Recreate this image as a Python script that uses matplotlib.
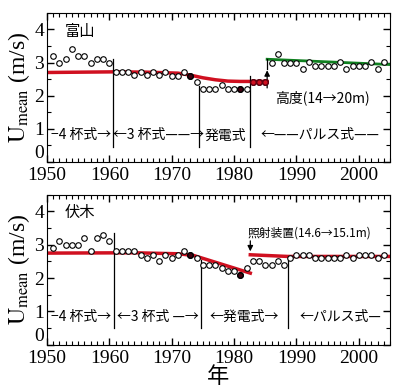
import numpy as np
import matplotlib
matplotlib.use("Agg")
import matplotlib.pyplot as plt
from matplotlib.ticker import MultipleLocator

plt.rcParams["font.family"] = ["Liberation Serif", "Noto Sans CJK JP"]
plt.rcParams["mathtext.fontset"] = "stix"
JP = ["Noto Sans CJK JP", "DejaVu Sans"]

years = list(range(1951, 2005))

# Toyama (top)
toyama = [3.2, 3.0, 3.1, 3.4, 3.2, 3.2, 3.0, 3.1, 3.1, 3.0,
          2.7, 2.7, 2.7, 2.62, 2.7, 2.62, 2.7, 2.62, 2.7, 2.6,
          2.6, 2.7, 2.6, 2.4, 2.2, 2.2, 2.2, 2.32, 2.2, 2.2,
          2.2, 2.2, 2.42, 2.42, 2.42, 3.0, 3.25, 3.0, 3.0, 3.0,
          2.8, 3.03, 2.9, 2.9, 2.9, 2.9, 3.03, 2.8, 2.9, 2.9,
          2.9, 3.03, 2.8, 3.03]
toyama_dark = [1973, 1981]
toyama_red = [1983, 1984, 1985]

# Fushiki (bottom)
fushiki = [2.9, 3.1, 3.0, 3.0, 3.0, 3.2, 2.8, 3.2, 3.3, 3.1,
           2.8, 2.8, 2.8, 2.8, 2.7, 2.6, 2.7, 2.5, 2.7, 2.6,
           2.7, 2.8, 2.7, 2.6, 2.4, 2.4, 2.4, 2.3, 2.2, 2.2,
           2.1, 2.3, 2.5, 2.5, 2.4, 2.4, 2.5, 2.4, 2.6, 2.7,
           2.7, 2.7, 2.6, 2.6, 2.6, 2.6, 2.6, 2.7, 2.6, 2.7,
           2.7, 2.7, 2.6, 2.7]
fushiki_dark = [1973, 1981]

# fitted trend lines
fit_top_x = [1950, 1961, 1966, 1971, 1973, 1975, 1977, 1979, 1981, 1985.3]
fit_top_y = [2.7, 2.72, 2.71, 2.68, 2.62, 2.54, 2.48, 2.44, 2.43, 2.43]
green_x = [1985.3, 2005]
green_y = [3.1, 2.94]
fit_bot1_x = [1950, 1964, 1971, 1973.5, 1982.6]
fit_bot1_y = [2.75, 2.76, 2.73, 2.68, 2.15]
fit_bot2_x = [1982.6, 1988.6, 2005]
fit_bot2_y = [2.7, 2.65, 2.65]

y_ticks = [0, 1, 2, 3, 4]

fig = plt.figure(figsize=(4.0, 3.91), dpi=100)
ax1 = fig.add_axes([0.1175, 0.586, 0.8575, 0.381])
ax2 = fig.add_axes([0.1175, 0.118, 0.8575, 0.384])

RED = "#d01020"


def style(ax):
    ax.set_xlim(1950, 2005)
    ax.set_ylim(0, 4.5)
    ax.xaxis.set_major_locator(MultipleLocator(10))
    ax.xaxis.set_minor_locator(MultipleLocator(1))
    ax.set_yticks(y_ticks)
    ax.yaxis.set_minor_locator(MultipleLocator(0.5))
    ax.tick_params(which="both", direction="in", top=True, right=True,
                   labelsize=14)
    ax.tick_params(axis="x", pad=4)
    ax.tick_params(axis="y", pad=2)
    ax.tick_params(which="major", length=5, width=1)
    ax.tick_params(which="minor", length=3, width=0.8)
    ax.set_ylabel(r"$\mathrm{U_{mean}}$ (m/s)", fontsize=17, labelpad=2)
    # lift the "0" label so it clears the year labels
    ax.yaxis.get_major_ticks()[0].label1.set_verticalalignment("bottom")


def scatter(ax, vals, dark, red=()):
    ax.plot(years, vals, "o", mfc="white", mec="black", ms=4, mew=0.8,
            zorder=3)
    for y, v in zip(years, vals):
        if y in dark:
            ax.plot(y, v, "o", mfc="#400010", mec="black", ms=4, zorder=4)
        if y in red:
            ax.plot(y, v, "o", mfc=RED, mec="#600010", ms=4, zorder=4)


# top panel
style(ax1)
ax1.plot(fit_top_x, fit_top_y, color=RED, lw=2.5, zorder=2)
ax1.plot(green_x, green_y, color="#108020", lw=2, zorder=2)
scatter(ax1, toyama, toyama_dark, toyama_red)
for x, y0, y1 in [(1960.6, 0.45, 3.1), (1974.4, 0.45, 2.3), (1982.5, 0.45, 2.6)]:
    ax1.plot([x, x], [y0, y1], color="black", lw=0.9)
ax1.plot([1985.3, 1985.3], [2.8, 3.12], color="black", lw=0.9)
ax1.annotate("", xy=(1985.3, 2.85), xytext=(1985.3, 2.15),
             arrowprops=dict(arrowstyle="-|>", color="black", lw=0.9,
                             mutation_scale=8))
ax1.text(1955.3, 3.95, "富山", family=JP, fontsize=11, ha="center", va="center")
ax1.text(1994.2, 1.95, "高度(14→20m)", family=JP, fontsize=10,
         ha="center", va="center")
for x, s in [(1955.5, "−4 杯式→"), (1967.8, "←3 杯式——→"),
             (1978.6, "発電式"), (1993.7, "←——パルス式——")]:
    ax1.text(x, 0.8, s, family=JP, fontsize=10, ha="center", va="center")

# bottom panel
style(ax2)
ax2.plot(fit_bot1_x, fit_bot1_y, color=RED, lw=2.5, zorder=2)
ax2.plot(fit_bot2_x, fit_bot2_y, color=RED, lw=2.5, zorder=2)
scatter(ax2, fushiki, fushiki_dark)
for x, y0, y1 in [(1960.7, 0.5, 3.35), (1974.7, 0.5, 2.55), (1988.6, 0.5, 2.6)]:
    ax2.plot([x, x], [y0, y1], color="black", lw=0.9)
ax2.annotate("", xy=(1982.6, 2.72), xytext=(1982.6, 3.2),
             arrowprops=dict(arrowstyle="-|>", color="black", lw=0.9,
                             mutation_scale=8))
ax2.text(1955.3, 3.97, "伏木", family=JP, fontsize=11, ha="center", va="center")
ax2.text(1982.2, 3.36, "照射装置(14.6→15.1m)", family=JP, fontsize=8.5,
         ha="left", va="center")
for x, s in [(1955.5, "−4 杯式→"), (1967.8, "←3 杯式 —→"),
             (1981.6, "←発電式→"), (1997.0, "←パルス式—")]:
    ax2.text(x, 0.84, s, family=JP, fontsize=10, ha="center", va="center")

fig.text(0.545, 0.036, "年", family=JP, fontsize=16, ha="center", va="center")

fig.savefig("out.png", dpi=100)
